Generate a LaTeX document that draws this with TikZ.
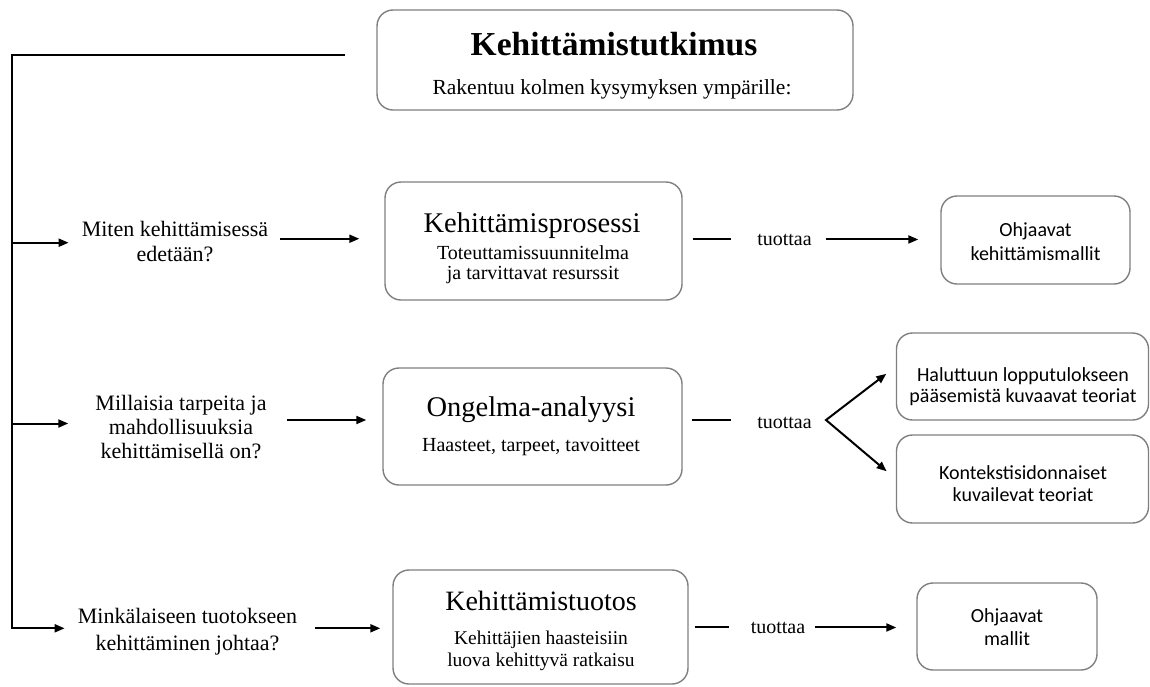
\documentclass[tikz,border=0pt]{standalone}
\usepackage{fontspec}
\setmainfont{Liberation Serif}
\newfontfamily\calsans{Carlito}
\usetikzlibrary{arrows.meta}
\definecolor{boxgray}{HTML}{7F7F7F}

\tikzset{
  box/.style={draw=boxgray, line width=1.4pt, rounded corners=16pt, inner sep=0pt},
  ln/.style={line width=2pt, black},
  arr/.style={ln, -{Triangle[length=10pt,width=8pt]}},
  dbl/.style={ln, {Triangle[length=10pt,width=8pt]}-{Triangle[length=10pt,width=8pt]}},
  % anchor=base of a multi-line node sits on its last line
  txt/.style={inner sep=0pt, anchor=base, align=center},
  bigtitle/.style={txt, font=\fontsize{33.5}{36}\selectfont\bfseries},
  lead/.style={txt, font=\fontsize{21.5}{24}\selectfont},
  boxtitle/.style={txt, font=\fontsize{28.5}{32}\selectfont},
  boxsub/.style={txt, font=\fontsize{20}{#1}\selectfont},
  boxsub/.default=20,
  question/.style={txt, font=\fontsize{22}{#1}\selectfont},
  question/.default=25,
  result/.style={txt, font=\calsans\fontsize{20}{#1}\selectfont},
  result/.default=23,
  verb/.style={txt, font=\fontsize{20}{24}\selectfont},
}

\begin{document}
\begin{tikzpicture}[x=1pt, y=-1pt]
\useasboundingbox (0,0) rectangle (1150,686);

% --- heading box
\node[box, minimum width=476pt, minimum height=100pt] (top) at (615,60) {};
\node[bigtitle] (top-t) at (614,55) {Kehittämistutkimus};
\node[lead] (top-s) at (612,94.3) {Rakentuu kolmen kysymyksen ympärille:};

% --- middle column
\node[box, minimum width=297pt, minimum height=118pt] (proc) at (533.5,241) {};
\node[boxtitle] (proc-t) at (532,232.7) {Kehittämisprosessi};
\node[boxsub] (proc-s) at (533,279) {Toteuttamissuunnitelma\\ja tarvittavat resurssit};

\node[box, minimum width=299pt, minimum height=117pt] (onge) at (532.5,426.5) {};
\node[boxtitle] (onge-t) at (531,416.7) {Ongelma-analyysi};
\node[boxsub] (onge-s) at (531,451.7) {Haasteet, tarpeet, tavoitteet};

\node[box, minimum width=295pt, minimum height=114pt] (tuot) at (540.5,627) {};
\node[boxtitle, font=\fontsize{28}{32}\selectfont] (tuot-t) at (541,610) {Kehittämistuotos};
\node[boxsub=22, font=\fontsize{19.5}{22}\selectfont] (tuot-s) at (541,666.7) {Kehittäjien haasteisiin\\luova kehittyvä ratkaisu};

% --- questions
\node[question] (q1) at (175,261.7) {Miten kehittämisessä\\edetään?};
\node[question=24] (q2) at (181,458) {Millaisia tarpeita ja\\mahdollisuuksia\\kehittämisellä on?};
\node[question=27] (q3) at (187.5,650) {Minkälaiseen tuotokseen\\kehittäminen johtaa?};

% --- results
\node[box, minimum width=189pt, minimum height=88pt] (ohj1) at (1035.5,240) {};
\node[result=24] (ohj1-t) at (1035.5,260) {Ohjaavat\\kehittämismallit};

\node[box, minimum width=252pt, minimum height=87pt] (hal) at (1022.5,376.5) {};
\node[result=21] (hal-t) at (1023,402.7) {Haluttuun lopputulokseen\\pääsemistä kuvaavat teoriat};

\node[box, minimum width=252pt, minimum height=88pt] (kon) at (1022.5,479) {};
\node[result=22] (kon-t) at (1023,501.7) {Kontekstisidonnaiset\\kuvailevat teoriat};

\node[box, minimum width=180pt, minimum height=87pt] (ohj2) at (1007,626.5) {};
\node[result] (ohj2-t) at (1007,645) {Ohjaavat\\mallit};

% --- "tuottaa" labels
\node[verb] (t1) at (784.5,245) {tuottaa};
\node[verb] (t2) at (784.5,428) {tuottaa};
\node[verb] (t3) at (778,633) {tuottaa};

% --- left spine
\coordinate (lineend) at (345,55);
\coordinate (corner) at (12,55);
\coordinate (v1) at (12,242.7);
\coordinate (v2) at (12,423.5);
\coordinate (v3) at (12,628.3);
\coordinate (fork) at (826,420);

\draw[arr, shorten >=13pt] (lineend) -- (corner) -- (v3) -- (v3 -| q3.west);
\draw[arr, shorten >=13pt] (v1) -- (v1 -| q1.west);
\draw[arr, shorten >=27pt] (v2) -- (v2 -| q2.west);

% --- questions to boxes
\draw[arr, shorten <=12pt, shorten >=25pt] ([yshift=3pt]q1.east) -- ([yshift=3pt]q1.east -| proc.west);
\draw[arr, shorten <=20pt, shorten >=16pt] (q2.east |- fork) -- (fork -| onge.west);
\draw[arr, shorten <=18pt, shorten >=12pt] (q3.east |- v3) -- (v3 -| tuot.west);

% --- boxes to results
\draw[ln] ([xshift=10pt]proc.east |- t1.center) -- ([xshift=-26pt]t1.west |- t1.center);
\draw[arr, shorten <=14pt, shorten >=22pt] (t1.east |- t1.center) -- (t1.center -| ohj1.west);

\draw[ln] ([xshift=9pt]onge.east |- fork) -- ([xshift=-26pt]t2.west |- fork);
\draw[dbl, shorten <=12pt, shorten >=12pt] ([yshift=10pt]hal.west) -- (fork) -- (kon.west);

\draw[ln] ([xshift=6pt]tuot.east |- t3.center) -- ([xshift=-22pt]t3.west |- t3.center);
\draw[arr, shorten <=10pt, shorten >=20pt] (t3.east |- t3.center) -- (t3.center -| ohj2.west);
\end{tikzpicture}
\end{document}
